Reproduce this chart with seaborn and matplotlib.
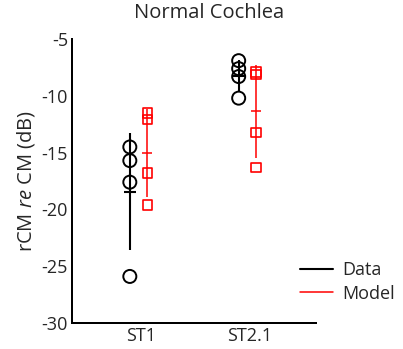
import numpy as np
import pandas as pd
import matplotlib.pyplot as plt
import seaborn as sns
from matplotlib.lines import Line2D

stimuli = ['ST1', 'ST2.1']
data_st1 = [-14.5, -15.7, -17.6, -25.9]
data_st21 = [-6.9, -7.6, -8.3, -10.2]
model_st1 = [-11.5, -12.1, -16.8, -19.6]
model_st21 = [-7.9, -8.1, -13.2, -16.3]

rows = []
for stim, vals in zip(stimuli, [data_st1, data_st21]):
    rows += [('Data', stim, v) for v in vals]
for stim, vals in zip(stimuli, [model_st1, model_st21]):
    rows += [('Model', stim, v) for v in vals]
df = pd.DataFrame(rows, columns=['source', 'stim', 'rcm'])

offsets = {'Data': -0.1, 'Model': 0.06}
colors = {'Data': 'black', 'Model': 'red'}
df['x'] = df['stim'].map({s: i + 1 for i, s in enumerate(stimuli)}) + df['source'].map(offsets)

sns.set_style('white')
plt.rcParams['font.family'] = ['Open Sans', 'DejaVu Sans']
plt.rcParams['axes.unicode_minus'] = False
plt.rcParams['mathtext.fontset'] = 'custom'
plt.rcParams['mathtext.it'] = 'Open Sans:italic'
plt.rcParams['mathtext.rm'] = 'Open Sans'

fig = plt.figure(figsize=(4.03, 3.49), dpi=100)
ax = fig.add_axes([0.179, 0.0745, 0.605, 0.8135])

# mean +/- sd bars
stats = df.groupby(['source', 'x'])['rcm'].agg(['mean', 'std']).reset_index()
for _, r in stats.iterrows():
    lw = 1.5 if r['source'] == 'Data' else 1.1
    ax.vlines(r['x'], r['mean'] - r['std'], r['mean'] + r['std'], color=colors[r['source']], lw=lw, zorder=2)
    ax.plot(r['x'], r['mean'], marker='_', color=colors[r['source']],
            ms=8.6 if r['source'] == 'Data' else 6.5, mew=lw, zorder=3)

sub = df[df['source'] == 'Data']
sns.scatterplot(data=sub, x='x', y='rcm', marker='o', s=88, facecolor='none',
                edgecolor='black', linewidth=1.4, ax=ax, zorder=4)
sub = df[df['source'] == 'Model']
sns.scatterplot(data=sub, x='x', y='rcm', marker='s', s=45, facecolor='none',
                edgecolor='red', linewidth=1.2, ax=ax, zorder=4)

ax.set_xlim(0.37, 2.61)
ax.set_ylim(-30, -5)
ax.set_xticks([1, 2])
ax.set_xticklabels(stimuli)
ax.set_yticks(np.arange(-30, -4, 5))
ax.set_xlabel('')
ax.set_ylabel(r'rCM $\it{re}$ CM (dB)', fontsize=14.5, labelpad=3)
ax.tick_params(direction='in', length=3, width=1.2, labelsize=13, color='black', pad=3)
for side in ['top', 'right']:
    ax.spines[side].set_visible(False)
for side in ['left', 'bottom']:
    ax.spines[side].set_color('black')
    ax.spines[side].set_linewidth(1.44)

fig.text(0.52, 0.99, 'Normal Cochlea', ha='center', va='top', fontsize=14.5)

handles = [Line2D([], [], color='black', lw=1.5), Line2D([], [], color='red', lw=1.1)]
fig.legend(handles, ['Data', 'Model'], loc='center left', bbox_to_anchor=(0.705, 0.192),
           frameon=False, fontsize=13, handlelength=1.8, labelspacing=0.3, handletextpad=0.5)

fig.savefig('out.png', dpi=100)
